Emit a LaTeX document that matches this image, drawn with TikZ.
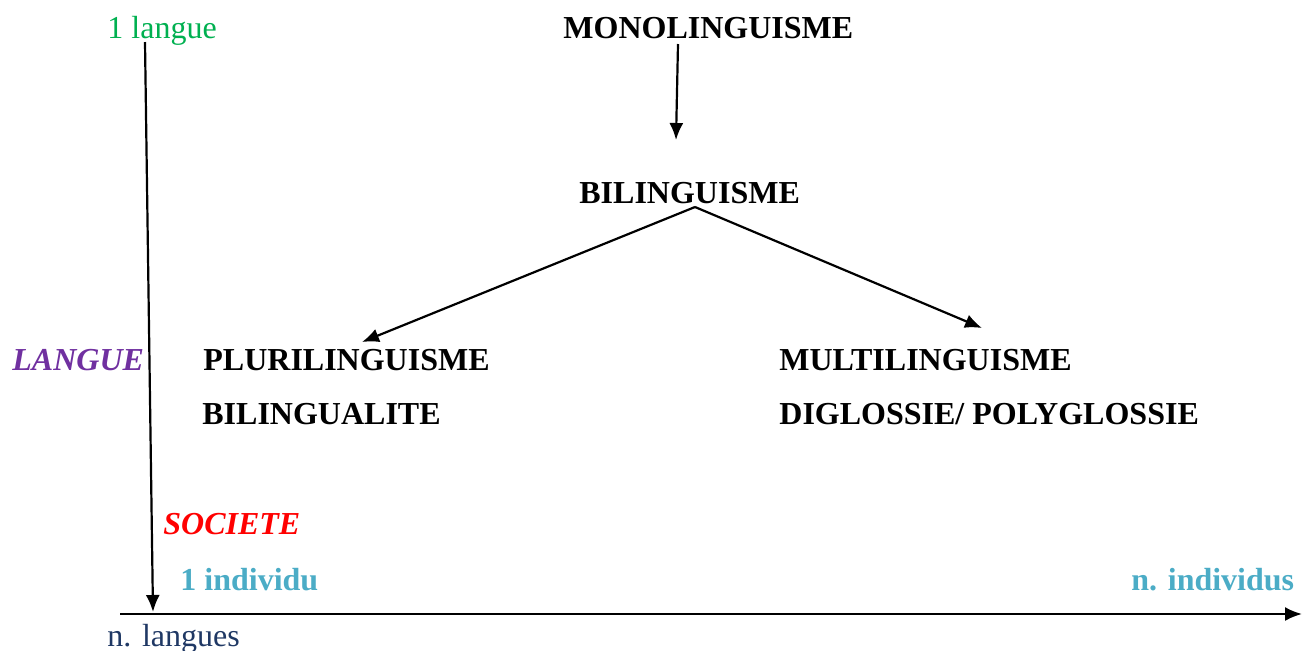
\documentclass[tikz,border=0pt]{standalone}
\usepackage{fontspec}
\setmainfont{Liberation Serif}
\usetikzlibrary{arrows.meta}
\definecolor{cgreen}{HTML}{00B050}
\definecolor{cteal}{HTML}{4BACC6}
\definecolor{cnavy}{HTML}{1F3864}
\definecolor{cpurple}{HTML}{7030A0}
\definecolor{cred}{HTML}{FF0000}
\begin{document}
\begin{tikzpicture}[x=0.5pt,y=-0.5pt,
  lbl/.style={anchor=base west,inner sep=0pt,font=\fontsize{16}{18}\selectfont},
  bterm/.style={lbl,font=\fontsize{16}{18}\selectfont\bfseries},
  arr/.style={line width=1.1pt,-{Latex[length=8.5pt,width=7pt]}}]
\useasboundingbox (0,0) rectangle (1302,650);
% labels
\node[lbl,text=cgreen] (onelangue) at (107,38) {1 langue};
\node[bterm] (mono) at (563,38) {MONOLINGUISME};
\node[bterm] (bili) at (579,203) {BILINGUISME};
\node[bterm] (pluri) at (203,370) {PLURILINGUISME};
\node[bterm] (bilit) at (202,424) {BILINGUALITE};
\node[bterm] (multi) at (779,370) {MULTILINGUISME};
\node[bterm] (digl) at (779,424) {DIGLOSSIE/ POLYGLOSSIE};
\node[bterm,font=\fontsize{16}{18}\selectfont\bfseries\itshape,text=cpurple] (langue) at (12,370) {LANGUE};
\node[bterm,font=\fontsize{16}{18}\selectfont\bfseries\itshape,text=cred] (societe) at (163,534) {SOCIETE};
\node[bterm,text=cteal] (oneind) at (180,590) {1 individu};
\node[bterm,text=cteal] (nind) at (1131,590) {n. individus};
\node[lbl,text=cnavy] (nlang) at (107,646) {n. langues};
% axis end points
\coordinate (ytop) at (145,42);
\coordinate (ybot) at (153,612);
\coordinate (xl) at (120,614);
\coordinate (xr) at (1302,614);
\coordinate (monoA) at (678,44);
\coordinate (monoB) at (676,140);
\coordinate (biliA) at (695,207);
\coordinate (pluriA) at (362,342);
\coordinate (multiA) at (982,328);
% connectors
\draw[arr] (ytop) -- (ybot);
\draw[arr] (xl) -- (xr);
\draw[arr] (monoA) -- (monoB);
\draw[arr] (biliA) -- (pluriA);
\draw[arr] (biliA) -- (multiA);
\end{tikzpicture}
\end{document}
